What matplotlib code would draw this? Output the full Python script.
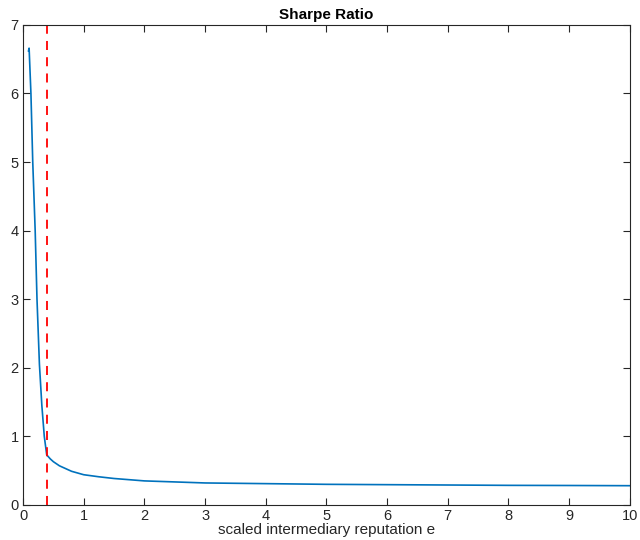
import matplotlib
matplotlib.use('Agg')
from matplotlib import pyplot as plt

# scaled intermediary reputation e and the Sharpe ratio
e_vals = [0.09, 0.10, 0.13, 0.16, 0.18, 0.20, 0.23, 0.27, 0.31, 0.35, 0.39,
          0.45, 0.5, 0.6, 0.7, 0.8, 1.0, 1.25, 1.5, 2, 2.5, 3, 4, 5, 6, 7,
          8, 9, 10]
sharpe = [6.62, 6.66, 6.0, 5.0, 4.5, 4.0, 3.0, 2.05, 1.45, 1.0, 0.73,
          0.67, 0.63, 0.57, 0.53, 0.49, 0.44, 0.41, 0.385, 0.35, 0.335, 0.32,
          0.31, 0.30, 0.295, 0.29, 0.285, 0.283, 0.28]
threshold = 0.4
x_ticks = list(range(0, 11))
y_ticks = list(range(0, 8))

plt.rcParams['font.family'] = ['Liberation Sans', 'DejaVu Sans']
axcol = '#262626'

fig = plt.figure(figsize=(6.4, 5.4), dpi=100)
ax = fig.add_axes([0.036, 0.065, 0.948, 0.889])

ax.plot(e_vals, sharpe, color='#0072BD', lw=1.2)
ax.axvline(threshold, color='red', ls=(0, (5, 4)), lw=1.3)

ax.set_xlim(0, 10)
ax.set_ylim(0, 7)
ax.set_xticks(x_ticks)
ax.set_yticks(y_ticks)
ax.tick_params(direction='in', top=True, right=True, length=5, width=0.8,
               colors=axcol, labelsize=10.5, pad=3)
for s in ax.spines.values():
    s.set_color(axcol)
    s.set_linewidth(0.8)

ax.set_title('Sharpe Ratio', fontsize=11, fontweight='bold', pad=4)
ax.set_xlabel('scaled intermediary reputation e', fontsize=11, color=axcol,
              labelpad=0)

fig.savefig('out.png', dpi=100)
